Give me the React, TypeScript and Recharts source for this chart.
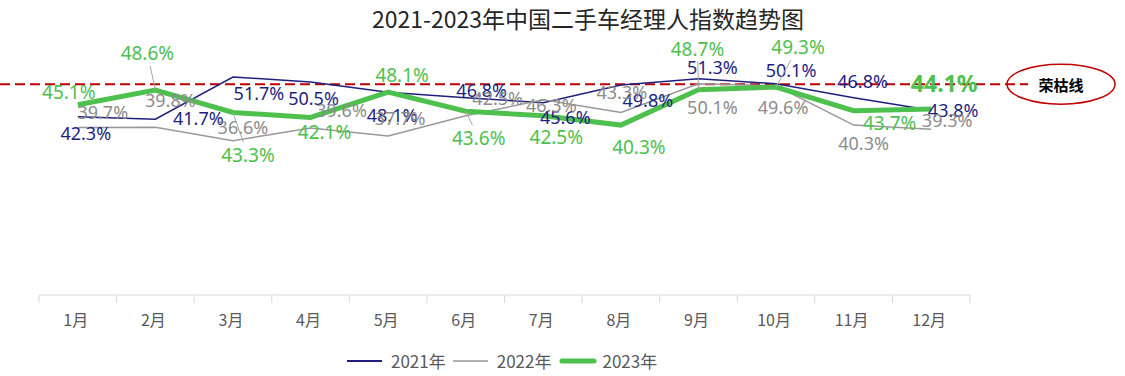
import { ComposedChart, Line, XAxis, YAxis, ReferenceLine, LabelList } from "recharts";

const months = ["1月", "2月", "3月", "4月", "5月", "6月", "7月", "8月", "9月", "10月", "11月", "12月"];
const index2021 = [42.3, 41.7, 51.7, 50.5, 48.1, 46.8, 45.6, 49.8, 51.3, 50.1, 46.8, 43.8];
const index2022 = [39.7, 39.8, 36.6, 39.6, 37.7, 42.5, 46.3, 43.3, 50.1, 49.6, 40.3, 39.3];
const index2023 = [45.1, 48.6, 43.3, 42.1, 48.1, 43.6, 42.5, 40.3, 48.7, 49.3, 43.7, 44.1];
const boomBustValue = 50;

// label nudges (dx, dy) relative to each point, as placed in the original chart
const labelShift2021 = [[8, 16], [43, -1], [26, 16], [3, 16], [4, 23], [16, -8], [22, 14], [27, 15], [14, -12], [15, -14], [9, -17], [22, 0]];
const labelShift2022 = [[25, -16], [15, -27], [10, -14], [31, -18], [12, -18], [32, -18], [8, 5], [1, -20], [14, 23], [7, 21], [10, 18], [16, -9]];
const labelShift2023 = [[-9, -13], [-8, -37], [15, 43], [14, 15], [14, -17], [13, 27], [13, 21], [18, 22], [-1, -41], [22, -40], [36, 12], [13, -26]];

const data = months.map((month, i) => ({
  month,
  y2021: index2021[i],
  y2022: index2022[i],
  y2023: index2023[i],
}));

const W = 1125;
const H = 376;
const margin = { top: 42, right: 155, bottom: 51, left: 39 };
const band = (W - margin.left - margin.right) / months.length;

const NAVY = "#1F1F7F";
const GRAY = "#999999";
const GREEN = "#4EC04E";
const AXIS = "#D9D9D9";
const TEXT = "#595959";

function MonthTick(props: any) {
  const { x, y, payload, index } = props;
  const half = band / 2;
  return (
    <g>
      <line x1={x - half} x2={x - half} y1={y} y2={y + 8} stroke={AXIS} />
      {index === months.length - 1 && <line x1={x + half} x2={x + half} y1={y} y2={y + 8} stroke={AXIS} />}
      <text x={x - 2} y={y + 24} textAnchor="middle" dominantBaseline="central" fill={TEXT} fontSize={16} fontFamily="Noto Sans CJK SC">
        {payload.value}
      </text>
    </g>
  );
}

function makeLabel(shifts: number[][], color: string, size: number, leaders: boolean) {
  return (props: any) => {
    const { x, y, value, index } = props;
    const [dx, dy] = shifts[index];
    const last = leaders && index === shifts.length - 1;
    const lx = x + dx;
    const ly = y + dy;
    const showLeader = leaders && Math.abs(dy) >= 27;
    const endY = ly - Math.sign(dy) * 13;
    const endX = x + dx * ((endY - y) / dy);
    return (
      <g>
        {showLeader && <line x1={x} y1={y} x2={endX} y2={endY} stroke="#A6A6A6" strokeWidth={1} />}
        <text
          x={lx}
          y={ly}
          textAnchor="middle"
          dominantBaseline="central"
          fill={color}
          fontSize={last ? 23 : size}
          fontWeight={last ? "bold" : "normal"}
          fontFamily="Noto Sans"
        >
          {value.toFixed(1)}%
        </text>
      </g>
    );
  };
}

function BoomBustShape(props: any) {
  const { x2, y1 } = props;
  const cx = x2 + 91;
  return (
    <g>
      <line x1={0} x2={x2 + 58} y1={y1} y2={y1} stroke="#C00000" strokeWidth={2} strokeDasharray="10 5" />
      <ellipse cx={cx} cy={y1} rx={54} ry={20} fill="none" stroke="#C00000" strokeWidth={1.5} />
      <text x={cx} y={y1} textAnchor="middle" dominantBaseline="central" fontSize={15} fontWeight="bold" fill="#000" fontFamily="Noto Sans CJK SC">
        荣枯线
      </text>
    </g>
  );
}

function LegendItem({ color, width, label }: { color: string; width: number; label: string }) {
  return (
    <div style={{ display: "flex", alignItems: "center", marginRight: 7 }}>
      <svg width={38} height={10} style={{ marginRight: 6 }}>
        <line x1={width > 3 ? 3 : 0} x2={35} y1={5} y2={5} stroke={color} strokeWidth={width} strokeLinecap={width > 3 ? "round" : "butt"} />
      </svg>
      <span>{label}</span>
    </div>
  );
}

export default function App() {
  return (
    <div style={{ position: "absolute", left: 0, top: 0, width: W, height: H, background: "#fff" }}>
      <div
        style={{
          position: "absolute",
          top: 4,
          left: 588,
          transform: "translateX(-50%)",
          whiteSpace: "nowrap",
          fontSize: 23,
          fontFamily: "Noto Sans CJK SC",
          color: "#262626",
          lineHeight: "28px",
        }}
      >
        2021-2023年中国二手车经理人指数趋势图
      </div>
      <ComposedChart width={W} height={H} data={data} margin={margin}>
        <XAxis
          dataKey="month"
          scale="band"
          height={30}
          axisLine={{ stroke: AXIS }}
          tickLine={false}
          tickSize={0}
          tickMargin={0}
          interval={0}
          tick={<MonthTick />}
        />
        <YAxis hide domain={[0, 60]} />
        <ReferenceLine y={boomBustValue} ifOverflow="visible" shape={(p: any) => <BoomBustShape {...p} />} />
        <Line dataKey="y2021" stroke={NAVY} strokeWidth={1.5} dot={false} isAnimationActive={false}>
          <LabelList dataKey="y2021" content={makeLabel(labelShift2021, NAVY, 18, false)} />
        </Line>
        <Line dataKey="y2022" stroke={GRAY} strokeWidth={1.5} dot={false} isAnimationActive={false}>
          <LabelList dataKey="y2022" content={makeLabel(labelShift2022, "#8C8C8C", 18, false)} />
        </Line>
        <Line dataKey="y2023" stroke={GREEN} strokeWidth={5} dot={false} isAnimationActive={false}>
          <LabelList dataKey="y2023" content={makeLabel(labelShift2023, GREEN, 19, true)} />
        </Line>
      </ComposedChart>
      <div
        style={{
          position: "absolute",
          top: 350,
          left: 347,
          display: "flex",
          fontSize: 17,
          fontFamily: "Noto Sans CJK SC",
          color: TEXT,
          lineHeight: "22px",
        }}
      >
        <LegendItem color={NAVY} width={2} label="2021年" />
        <LegendItem color={GRAY} width={1.5} label="2022年" />
        <LegendItem color={GREEN} width={5} label="2023年" />
      </div>
    </div>
  );
}
